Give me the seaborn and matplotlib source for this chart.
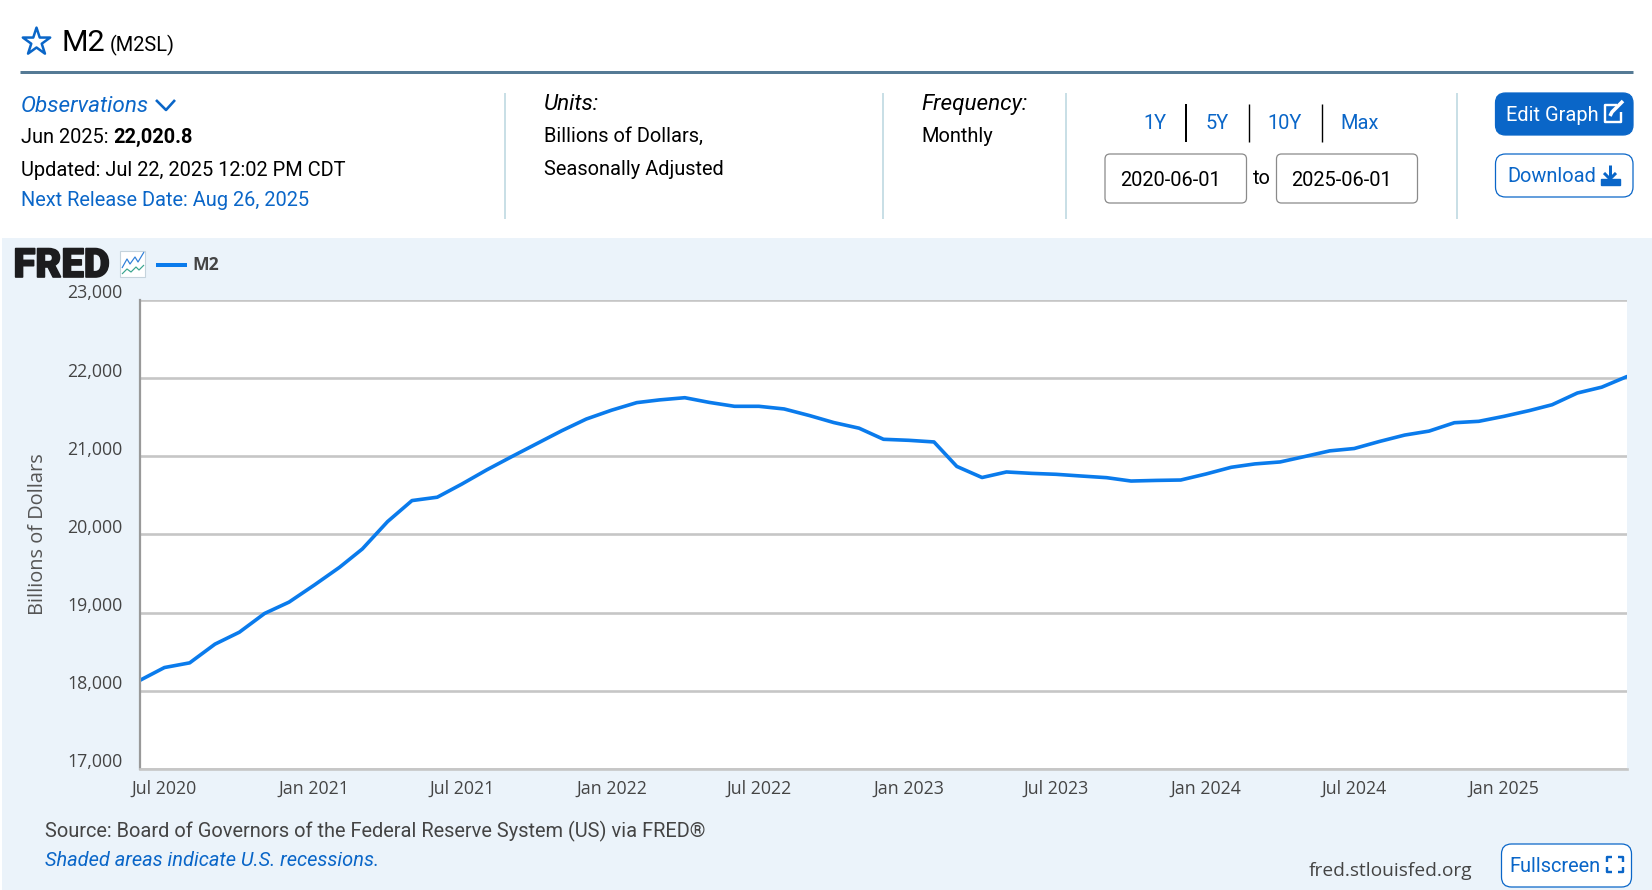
import numpy as np
import pandas as pd
import seaborn as sns
import matplotlib
matplotlib.use("Agg")
import matplotlib.pyplot as plt
import matplotlib.patheffects as pe
from matplotlib.patches import FancyBboxPatch, Rectangle
from matplotlib.transforms import ScaledTranslation

# ---------- data ----------
m2_values = [
    18135, 18298, 18358, 18597, 18750, 18990, 19135,
    19353, 19580, 19815, 20165, 20434, 20477,
    20644, 20828, 20999, 21161, 21328, 21477,
    21590, 21687, 21722, 21750, 21690, 21640,
    21640, 21606, 21522, 21432, 21360, 21218,
    21205, 21184, 20871, 20729, 20800, 20782,
    20770, 20748, 20727, 20684, 20692, 20697,
    20774, 20860, 20903, 20928, 20997, 21070,
    21100, 21190, 21272, 21323, 21430, 21448,
    21512, 21585, 21660, 21810, 21885, 22020.8,
]
dates = pd.date_range("2020-06-01", "2025-06-01", freq="MS")
x_tick_dates = pd.to_datetime(["2020-07-01", "2021-01-01", "2021-07-01", "2022-01-01", "2022-07-01",
                               "2023-01-01", "2023-07-01", "2024-01-01", "2024-07-01", "2025-01-01"])
x_tick_labels = ["Jul 2020", "Jan 2021", "Jul 2021", "Jan 2022", "Jul 2022",
                 "Jan 2023", "Jul 2023", "Jan 2024", "Jul 2024", "Jan 2025"]
y_ticks = [17000, 18000, 19000, 20000, 21000, 22000, 23000]
y_tick_labels = ["17,000", "18,000", "19,000", "20,000", "21,000", "22,000", "23,000"]
df = pd.DataFrame({"date": dates, "M2": m2_values})

# ---------- styling ----------
W, H = 1652, 890
BLUE = "#0a66c8"
LINE = "#0a7bec"
PANEL = "#ebf3fa"
SEP = "#c9dfe6"
TXT = "#000000"
GREY = "#444444"
BODY = 20

sns.set_theme(style="white")
plt.rcParams["font.family"] = ["Roboto", "DejaVu Sans"]

fig = plt.figure(figsize=(W / 100, H / 100), dpi=100, facecolor="white")
bg = fig.add_axes([0, 0, 1, 1], zorder=0)
bg.set_xlim(0, W)
bg.set_ylim(H, 0)
bg.axis("off")


def T(x, y, s, px, color=TXT, ha="left", va="baseline", **kw):
    return bg.text(x, y, s, fontsize=px * 0.72, color=color, ha=ha, va=va, **kw)


def box(x0, y0, x1, y1, r, fc, ec, lw=0.9):
    bg.add_patch(FancyBboxPatch((x0 + r, y0 + r), x1 - x0 - 2 * r, y1 - y0 - 2 * r,
                                boxstyle=f"round,pad={r},rounding_size={r}",
                                fc=fc, ec=ec, lw=lw, mutation_aspect=1))


def ln(xs, ys, color, px=1.5, **kw):
    bg.plot(xs, ys, color=color, lw=px * 0.72, solid_capstyle=kw.pop("cap", "butt"), **kw)


# header
bg.scatter([36.5], [42], marker="*", s=430, facecolor="none", edgecolor=BLUE, linewidth=1.8)
T(62, 51, "M2", 30.5)
T(110, 51, "(M2SL)", 20)
ln([20, 1633], [72, 72], "#557a95", 3)

# info columns
T(21, 112, "Observations", 22.5, BLUE, style="italic")
ln([156, 166, 175], [100, 110, 100], BLUE, 2.6)
T(21, 143, "Jun 2025: ", BODY)
T(113, 143, "22,020.8", BODY, weight="bold")
T(21, 176, "Updated: Jul 22, 2025 12:02 PM CDT", BODY)
T(21, 206, "Next Release Date: Aug 26, 2025", BODY, BLUE)

T(544, 110, "Units:", 22.5, style="italic")
T(544, 142, "Billions of Dollars,", BODY)
T(544, 175, "Seasonally Adjusted", BODY)
T(921.5, 110, "Frequency:", 22.5, style="italic")
T(921.5, 142, "Monthly", BODY)

for sx in [505, 882.5, 1065.5, 1456.5]:
    ln([sx, sx], [93, 219], SEP, 2)

for cx, s in zip([1155, 1217.5, 1285, 1360], ["1Y", "5Y", "10Y", "Max"]):
    T(cx, 129, s, BODY, BLUE, ha="center")
for sx, w in zip([1186, 1248.5, 1322], [2, 1.4, 1.4]):
    ln([sx, sx], [104, 142], "#000000", w)

box(1105, 154, 1246.5, 203, 5, "white", "#8a8a8a")
box(1276.5, 154, 1417.5, 203, 5, "white", "#8a8a8a")
T(1120, 186, "2020-06-01", BODY)
T(1291.5, 186, "2025-06-01", BODY)
T(1253, 184, "to", BODY)

# buttons
box(1495.5, 93, 1633, 135, 10, BLUE, BLUE)
T(1506, 121, "Edit Graph", BODY, "white")
ln([1617, 1605, 1605, 1621, 1621], [105, 105, 122, 122, 112], "white", 2.4)
ln([1610, 1612, 1623], [116, 112, 101], "white", 3.6)
box(1495.5, 154, 1633, 197, 10, "white", BLUE)
T(1507, 182, "Download", BODY, BLUE)
ln([1610, 1610], [165, 179], BLUE, 3)
ln([1604, 1610, 1616], [173, 179, 173], BLUE, 3)
bg.add_patch(Rectangle((1601, 179), 19, 6, fc=BLUE, ec=BLUE))

# chart panel
bg.add_patch(Rectangle((2, 238), W - 2, H - 238, fc=PANEL, ec="none"))
T(13.5, 277, "FRED", 40, "#1c1c1e", weight="black",
  path_effects=[pe.withStroke(linewidth=1.2, foreground="#1c1c1e")])
bg.add_patch(Rectangle((120, 250.5), 25, 26.5, fc="white", ec="#c5d3dc", lw=0.8))
ln([122, 127, 130, 135, 138, 144], [268, 259, 264, 257, 262, 252], "#2f7fd8", 1.2)
ln([122, 127, 131, 136, 139, 144], [274, 269, 272, 267, 270, 265], "#3aa68f", 1.2)
ln([156, 187], [265, 265], LINE, 4)
T(192, 270, "M2", 17.5, GREY, family="Open Sans", weight="bold")

T(45, 837, "Source: Board of Governors of the Federal Reserve System (US) via FRED\u00ae", BODY, "#444444")
T(45, 866, "Shaded areas indicate U.S. recessions.", BODY, BLUE, style="italic")
T(1309, 876, "fred.stlouisfed.org", 19.1, "#444444", family="Open Sans")
box(1501.5, 844, 1631.5, 887, 10, "white", BLUE)
T(1509, 872, "Fullscreen", BODY, BLUE)
for dx in (-1, 1):
    for dy in (-1, 1):
        cx, cy = 1615 + dx * 8, 864 + dy * 7.5
        ln([cx - dx * 5, cx, cx], [cy, cy, cy - dy * 5], BLUE, 2.4)

# ---------- chart ----------
left, right, top, bottom = 140, 1627, 300, 769
ax = fig.add_axes([left / W, 1 - bottom / H, (right - left) / W, (bottom - top) / H], zorder=2)
ax.set_facecolor("white")
sns.lineplot(data=df, x="date", y="M2", ax=ax, color=LINE, linewidth=2.6, legend=False)
ax.set_xlim(dates[0], dates[-1])
ax.set_ylim(17000, 23000)

ax.set_yticks(y_ticks)
ax.set_yticklabels(y_tick_labels, family="Open Sans", fontsize=12.8, color=GREY, va="center")
ax.set_xticks(x_tick_dates)
ax.set_xticklabels(x_tick_labels, family="Open Sans", fontsize=12.8, color=GREY)
ax.tick_params(axis="y", length=0, pad=12.5)
ax.tick_params(axis="x", length=8, width=1, color="#ccd6eb", pad=-0.3)
off = ScaledTranslation(0, 6.5 / 100, fig.dpi_scale_trans)
for lab in ax.get_yticklabels():
    lab.set_transform(lab.get_transform() + off)

ax.grid(axis="y", color="#c6c6c6", lw=1.9)
ax.grid(axis="x", visible=False)
ax.set_axisbelow(True)
ax.set_xlabel("")
ax.set_ylabel("")
for side in ("top", "right"):
    ax.spines[side].set_visible(False)
ax.spines["left"].set_color("#999999")
ax.spines["left"].set_linewidth(1.6)
ax.spines["bottom"].set_color("#c6c6c6")
ax.spines["bottom"].set_linewidth(1.9)
T(38, 534, "Billions of Dollars", 20, "#555555", ha="center", va="center", rotation=90, family="Open Sans")

fig.savefig("out.png", dpi=100, facecolor="white")
